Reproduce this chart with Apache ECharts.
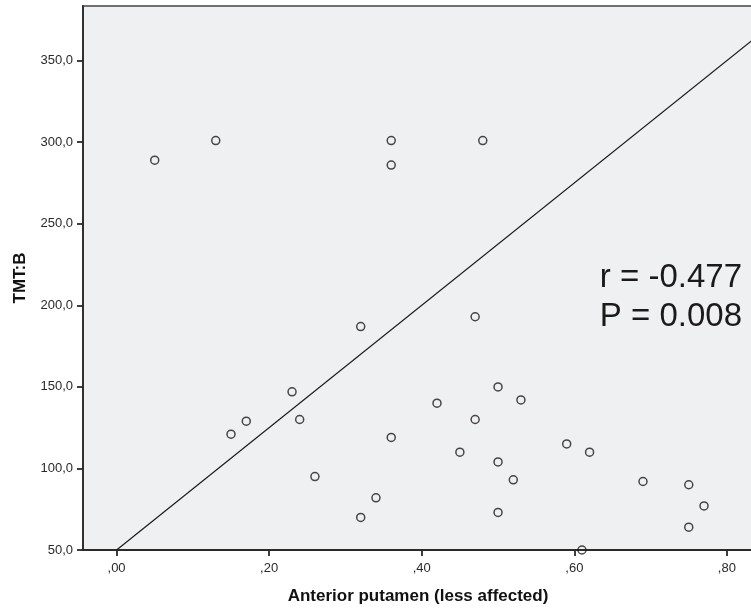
<!DOCTYPE html>
<html>
<head>
<meta charset="utf-8">
<style>
  html, body { margin: 0; padding: 0; background: #ffffff; }
  #chart { width: 751px; height: 608px; }
</style>
<script src="https://cdn.jsdelivr.net/npm/echarts@6/dist/echarts.min.js"></script>
</head>
<body>
<div id="chart"></div>
<script>
// ---- data ----
const putamenValues = [0.05, 0.13, 0.36, 0.36, 0.48, 0.32, 0.23, 0.17, 0.24, 0.15,
                       0.26, 0.32, 0.34, 0.47, 0.50, 0.53, 0.42, 0.47, 0.36, 0.45,
                       0.50, 0.52, 0.50, 0.59, 0.62, 0.69, 0.75, 0.77, 0.75, 0.61];
const tmtBValues    = [289, 301, 301, 286, 301, 187, 147, 129, 130, 121,
                       95, 70, 82, 193, 150, 142, 140, 130, 119, 110,
                       104, 93, 73, 115, 110, 92, 90, 77, 64, 50];
const fitLineX = [0.0, 0.834];
const fitLineY = [50.0, 362.8];
const xTickValues = [0.0, 0.2, 0.4, 0.6, 0.8];
const yTickValues = [50, 100, 150, 200, 250, 300, 350];
const statLabels = ['r = -0.477', 'P = 0.008'];
const xAxisTitle = 'Anterior putamen (less affected)';
const yAxisTitle = 'TMT:B';

const scatterData = putamenValues.map((x, i) => [x, tmtBValues[i]]);
const fitData = fitLineX.map((x, i) => [x, fitLineY[i]]);

const chart = echarts.init(document.getElementById('chart'), null, { renderer: 'canvas' });
const fontFam = '"Liberation Sans", Arial, Helvetica, sans-serif';
const axisColor = '#2a2a2a';

chart.setOption({
  backgroundColor: '#ffffff',
  animation: false,
  grid: {
    left: 83, top: 6, right: -2, bottom: 58,
    outerBoundsMode: 'none',
    containLabel: false,
    show: true,
    backgroundColor: '#eff0f2',
    borderColor: '#444444',
    borderWidth: 1.5
  },
  xAxis: {
    type: 'value',
    min: -0.044,
    max: 0.8342,
    name: xAxisTitle,
    nameLocation: 'middle',
    nameGap: 38,
    nameTextStyle: { fontFamily: fontFam, fontSize: 17, fontWeight: 'bold', color: '#111111' },
    axisLine: { show: true, onZero: false, lineStyle: { color: axisColor, width: 1.8 } },
    axisTick: { show: true, inside: false, length: 6, customValues: xTickValues, lineStyle: { color: axisColor, width: 1.8 } },
    axisLabel: {
      customValues: xTickValues,
      margin: 12,
      fontFamily: fontFam, fontSize: 13, color: '#2a2a2a',
      formatter: v => v.toFixed(2).replace('0.', ',')
    },
    splitLine: { show: false }
  },
  yAxis: {
    type: 'value',
    min: 50,
    max: 383.5,
    name: yAxisTitle,
    nameLocation: 'middle',
    nameGap: 54,
    nameTextStyle: { fontFamily: fontFam, fontSize: 17, fontWeight: 'bold', color: '#111111' },
    axisLine: { show: true, onZero: false, lineStyle: { color: axisColor, width: 1.8 } },
    axisTick: { show: true, inside: false, length: 6, customValues: yTickValues, lineStyle: { color: axisColor, width: 1.8 } },
    axisLabel: {
      customValues: yTickValues,
      margin: 10,
      fontFamily: fontFam, fontSize: 13, color: '#2a2a2a',
      formatter: v => v.toFixed(1).replace('.', ',')
    },
    splitLine: { show: false }
  },
  series: [
    {
      type: 'line',
      data: fitData,
      symbol: 'none',
      lineStyle: { color: '#1a1a1a', width: 1.2 },
      z: 2,
      silent: true
    },
    {
      type: 'scatter',
      data: scatterData,
      symbol: 'circle',
      symbolSize: 8,
      itemStyle: { color: 'rgba(0,0,0,0)', borderColor: '#1a1a1a', borderWidth: 1.5 },
      z: 3
    }
  ],
  graphic: [
    {
      type: 'text', right: 9, top: 261,
      style: { text: statLabels[0], font: '33px ' + fontFam, fill: '#1a1a1a' }
    },
    {
      type: 'text', right: 9, top: 300,
      style: { text: statLabels[1], font: '33px ' + fontFam, fill: '#1a1a1a' }
    }
  ]
});
</script>
</body>
</html>
